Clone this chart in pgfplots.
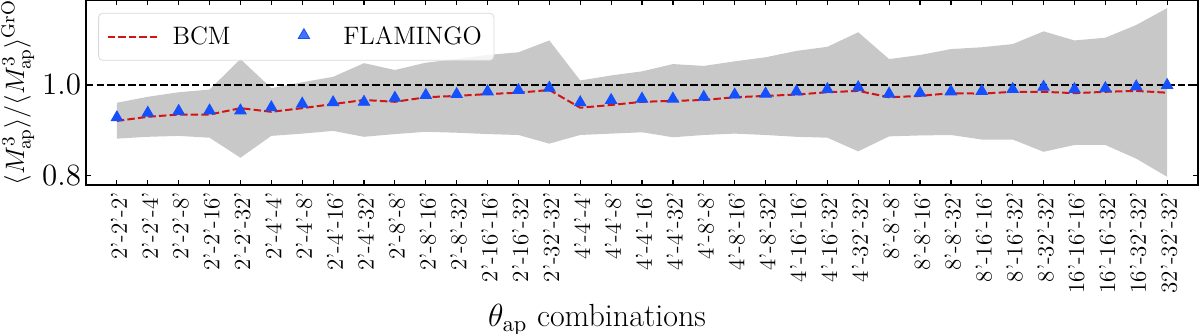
\RequirePackage{fix-cm}
\documentclass[border=0pt]{standalone}
\usepackage{pgfplots}
\pgfplotsset{compat=1.18}
\usepgfplotslibrary{fillbetween}
\usepackage{pgfplotstable}

\definecolor{bandgray}{RGB}{200,200,200}
\definecolor{bcmred}{RGB}{210,20,20}
\definecolor{flamblue}{RGB}{20,80,252}

\pgfplotsset{
  lineleg/.style={legend image code/.code={\draw[##1] (0pt,0pt) -- (25pt,0pt);}},
  markleg/.style={legend image code/.code={\path (0pt,0pt) (25pt,0pt);
    \draw[mark repeat=2, mark phase=2, ##1, only marks] plot coordinates {(0pt,0pt) (12.5pt,0pt) (25pt,0pt)};}},
}

% x = index of the theta_ap combination, hi/lo = grey band, bcm = red line, flam = triangles
\pgfplotstableread{
x  hi    lo    bcm   flam
0  0.961 0.882 0.921 0.925
1  0.974 0.886 0.930 0.935
2  0.984 0.888 0.935 0.939
3  0.990 0.884 0.935 0.940
4  1.057 0.840 0.949 0.940
5  0.993 0.888 0.941 0.947
6  1.006 0.893 0.949 0.955
7  1.018 0.899 0.958 0.958
8  1.048 0.886 0.967 0.959
9  1.033 0.892 0.963 0.968
10 1.049 0.897 0.973 0.974
11 1.057 0.895 0.976 0.976
12 1.066 0.892 0.980 0.982
13 1.072 0.890 0.983 0.985
14 1.098 0.871 0.989 0.990
15 1.010 0.890 0.950 0.958
16 1.021 0.893 0.956 0.963
17 1.030 0.896 0.963 0.966
18 1.046 0.885 0.965 0.966
19 1.042 0.890 0.967 0.970
20 1.052 0.893 0.973 0.975
21 1.061 0.890 0.976 0.977
22 1.075 0.886 0.979 0.982
23 1.084 0.884 0.984 0.987
24 1.116 0.854 0.987 0.991
25 1.057 0.887 0.973 0.977
26 1.066 0.889 0.976 0.979
27 1.079 0.890 0.982 0.982
28 1.083 0.880 0.981 0.983
29 1.090 0.880 0.985 0.987
30 1.118 0.853 0.985 0.992
31 1.098 0.868 0.982 0.987
32 1.104 0.868 0.985 0.989
33 1.132 0.838 0.987 0.993
34 1.169 0.798 0.983 0.996
}\ratios

\begin{document}
\begin{tikzpicture}
\begin{axis}[
  scale only axis,
  width=556pt, height=92.5pt,
  xmin=-1, xmax=35,
  ymin=0.78, ymax=1.187,
  axis line style={line width=0.75pt},
  major tick length=2.5pt,
  tick style={black, line width=0.6pt},
  xtick={0,...,34},
  xticklabels={2'-2'-2',2'-2'-4',2'-2'-8',2'-2'-16',2'-2'-32',2'-4'-4',2'-4'-8',2'-4'-16',2'-4'-32',2'-8'-8',2'-8'-16',2'-8'-32',2'-16'-16',2'-16'-32',2'-32'-32',4'-4'-4',4'-4'-8',4'-4'-16',4'-4'-32',4'-8'-8',4'-8'-16',4'-8'-32',4'-16'-16',4'-16'-32',4'-32'-32',8'-8'-8',8'-8'-16',8'-8'-32',8'-16'-16',8'-16'-32',8'-32'-32',16'-16'-16',16'-16'-32',16'-32'-32',32'-32'-32'},
  xticklabel style={rotate=90, anchor=east, font=\fontsize{11.5}{13}\selectfont, yshift=-1pt},
  ytick={0.8,1.0},
  yticklabel style={font=\fontsize{15.5}{18}\selectfont, xshift=1pt, /pgf/number format/.cd, fixed, fixed zerofill, precision=1},
  every axis x label/.style={at={(axis description cs:0.4595,0)}, anchor=base, yshift=-71pt, font=\fontsize{16}{19}\selectfont},
  every axis y label/.style={at={(axis description cs:-0.0612,0.5)}, rotate=90, anchor=center, font=\fontsize{13.3}{16}\selectfont},
  xlabel={$\theta_{\mathrm{ap}}$ combinations},
  ylabel={$\langle M_{\mathrm{ap}}^3\rangle/\langle M_{\mathrm{ap}}^3\rangle^{\mathrm{GrO}}$},
  legend columns=2,
  legend style={at={(0.011,0.93)}, anchor=north west, draw=black!15, rounded corners=2pt,
    fill=white, fill opacity=0.8, text opacity=1, inner xsep=4pt, inner ysep=4.5pt,
    font=\fontsize{12.6}{15}\selectfont,
    /tikz/every odd column/.append style={column sep=5pt},
    /tikz/every even column/.append style={column sep=22pt}},
]
\addplot[name path=hi, draw=none, forget plot] table[x=x, y=hi] {\ratios};
\addplot[name path=lo, draw=none, forget plot] table[x=x, y=lo] {\ratios};
\addplot[fill=bandgray, draw=none, forget plot] fill between[of=hi and lo];

\addplot[black, line width=1pt, dash pattern=on 3.7pt off 1.6pt, forget plot] coordinates {(-1,1) (35,1)};

\addplot[bcmred, line width=1pt, dash pattern=on 3.7pt off 1.6pt, lineleg]
  table[x=x, y=bcm] {\ratios};
\addlegendentry{BCM}

\addplot[only marks, mark=triangle*, mark size=3.3pt,
  mark options={fill=flamblue, draw=flamblue, yshift=0.8pt}, markleg]
  table[x=x, y=flam] {\ratios};
\addlegendentry{FLAMINGO}
\end{axis}
\pgfresetboundingbox
\path[use as bounding box] ([xshift=-43pt, yshift=-74.5pt]current axis.south west) rectangle ([xshift=1pt]current axis.north east);
\end{tikzpicture}
\end{document}
